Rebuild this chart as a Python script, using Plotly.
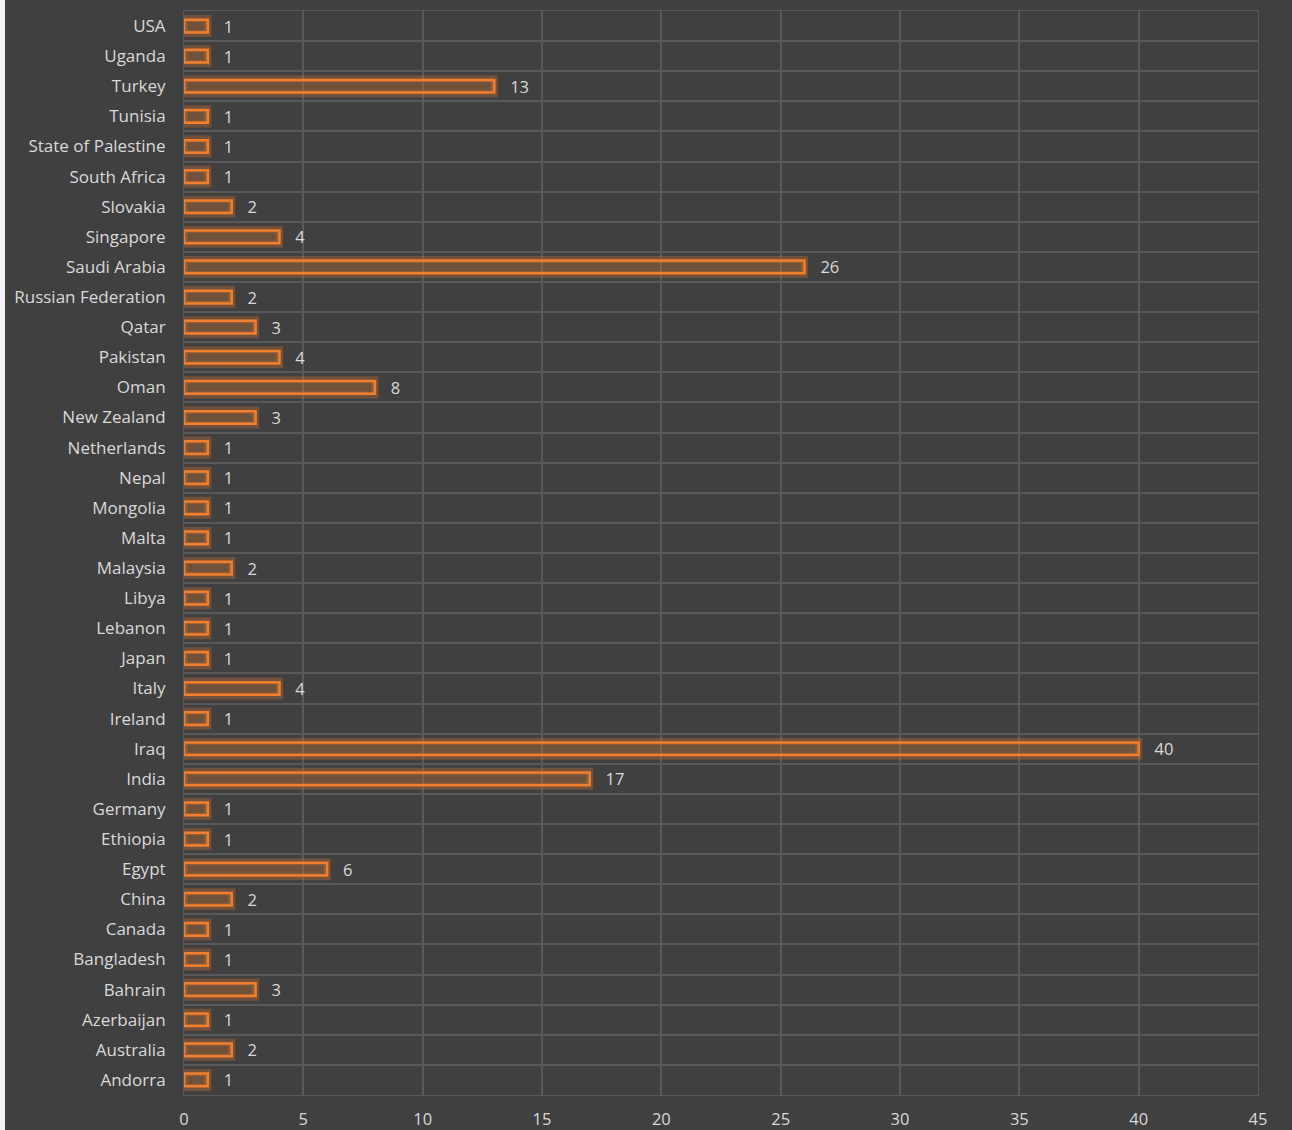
import plotly.graph_objects as go

countries = ["Andorra", "Australia", "Azerbaijan", "Bahrain", "Bangladesh", "Canada", "China",
             "Egypt", "Ethiopia", "Germany", "India", "Iraq", "Ireland", "Italy", "Japan",
             "Lebanon", "Libya", "Malaysia", "Malta", "Mongolia", "Nepal", "Netherlands",
             "New Zealand", "Oman", "Pakistan", "Qatar", "Russian Federation", "Saudi Arabia",
             "Singapore", "Slovakia", "South Africa", "State of Palestine", "Tunisia", "Turkey",
             "Uganda", "USA"]
counts = [1, 2, 1, 3, 1, 1, 2, 6, 1, 1, 17, 40, 1, 4, 1, 1, 1, 2, 1, 1, 1, 1, 3, 8, 4, 3, 2,
          26, 4, 2, 1, 1, 1, 13, 1, 1]
x_ticks = [0, 5, 10, 15, 20, 25, 30, 35, 40, 45]

ORANGE = "#F07F2E"
BG = "#404040"
GRID = "#595959"
TXT = "#d9d9d9"

fig = go.Figure()
# glow layer
fig.add_trace(go.Bar(
    x=counts, y=countries, orientation="h", width=0.5,
    marker=dict(color="rgba(240,127,46,0.10)", line=dict(color="rgba(240,127,46,0.28)", width=7)),
    hoverinfo="skip", showlegend=False,
))
# main bars
fig.add_trace(go.Bar(
    x=counts, y=countries, orientation="h", width=0.42,
    marker=dict(color="rgba(240,127,46,0.20)", line=dict(color=ORANGE, width=2.5)),
    text=counts, texttemplate="   %{x}", textposition="outside", cliponaxis=False,
    constraintext="none",
    textfont=dict(family="Open Sans", size=16.5, color=TXT),
    showlegend=False,
))

fig.update_layout(
    width=1292, height=1130,
    barmode="overlay",
    paper_bgcolor=BG, plot_bgcolor=BG,
    margin=dict(l=184, r=34, t=11, b=35),
    font=dict(family="Open Sans", size=17, color=TXT),
    shapes=[dict(type="rect", xref="paper", yref="paper",
                 x0=-184/1074, x1=-179/1074, y0=-0.05, y1=1.02,
                 fillcolor="#f3f3f8", line=dict(width=0), layer="above")],
)
fig.update_xaxes(
    range=[0, 45], tickvals=x_ticks, showgrid=True, gridcolor=GRID, gridwidth=1.5,
    zeroline=False, showline=True, linecolor=GRID, mirror=True, automargin=False,
    tickfont=dict(family="Open Sans", size=16.5, color=TXT), ticks="", ticklabelstandoff=9,
)
fig.update_yaxes(
    type="category", categoryorder="array", categoryarray=countries,
    tickson="boundaries", showgrid=True, gridcolor=GRID, gridwidth=1.5, automargin=False,
    showline=True, linecolor=GRID, mirror=True, ticks="",
    tickfont=dict(family="Open Sans", size=17, color=TXT), ticklabelstandoff=14,
)

fig.write_html("out.html", config={"displayModeBar": False},
               post_script="document.body.style.margin='0px';document.body.style.overflow='hidden';")
